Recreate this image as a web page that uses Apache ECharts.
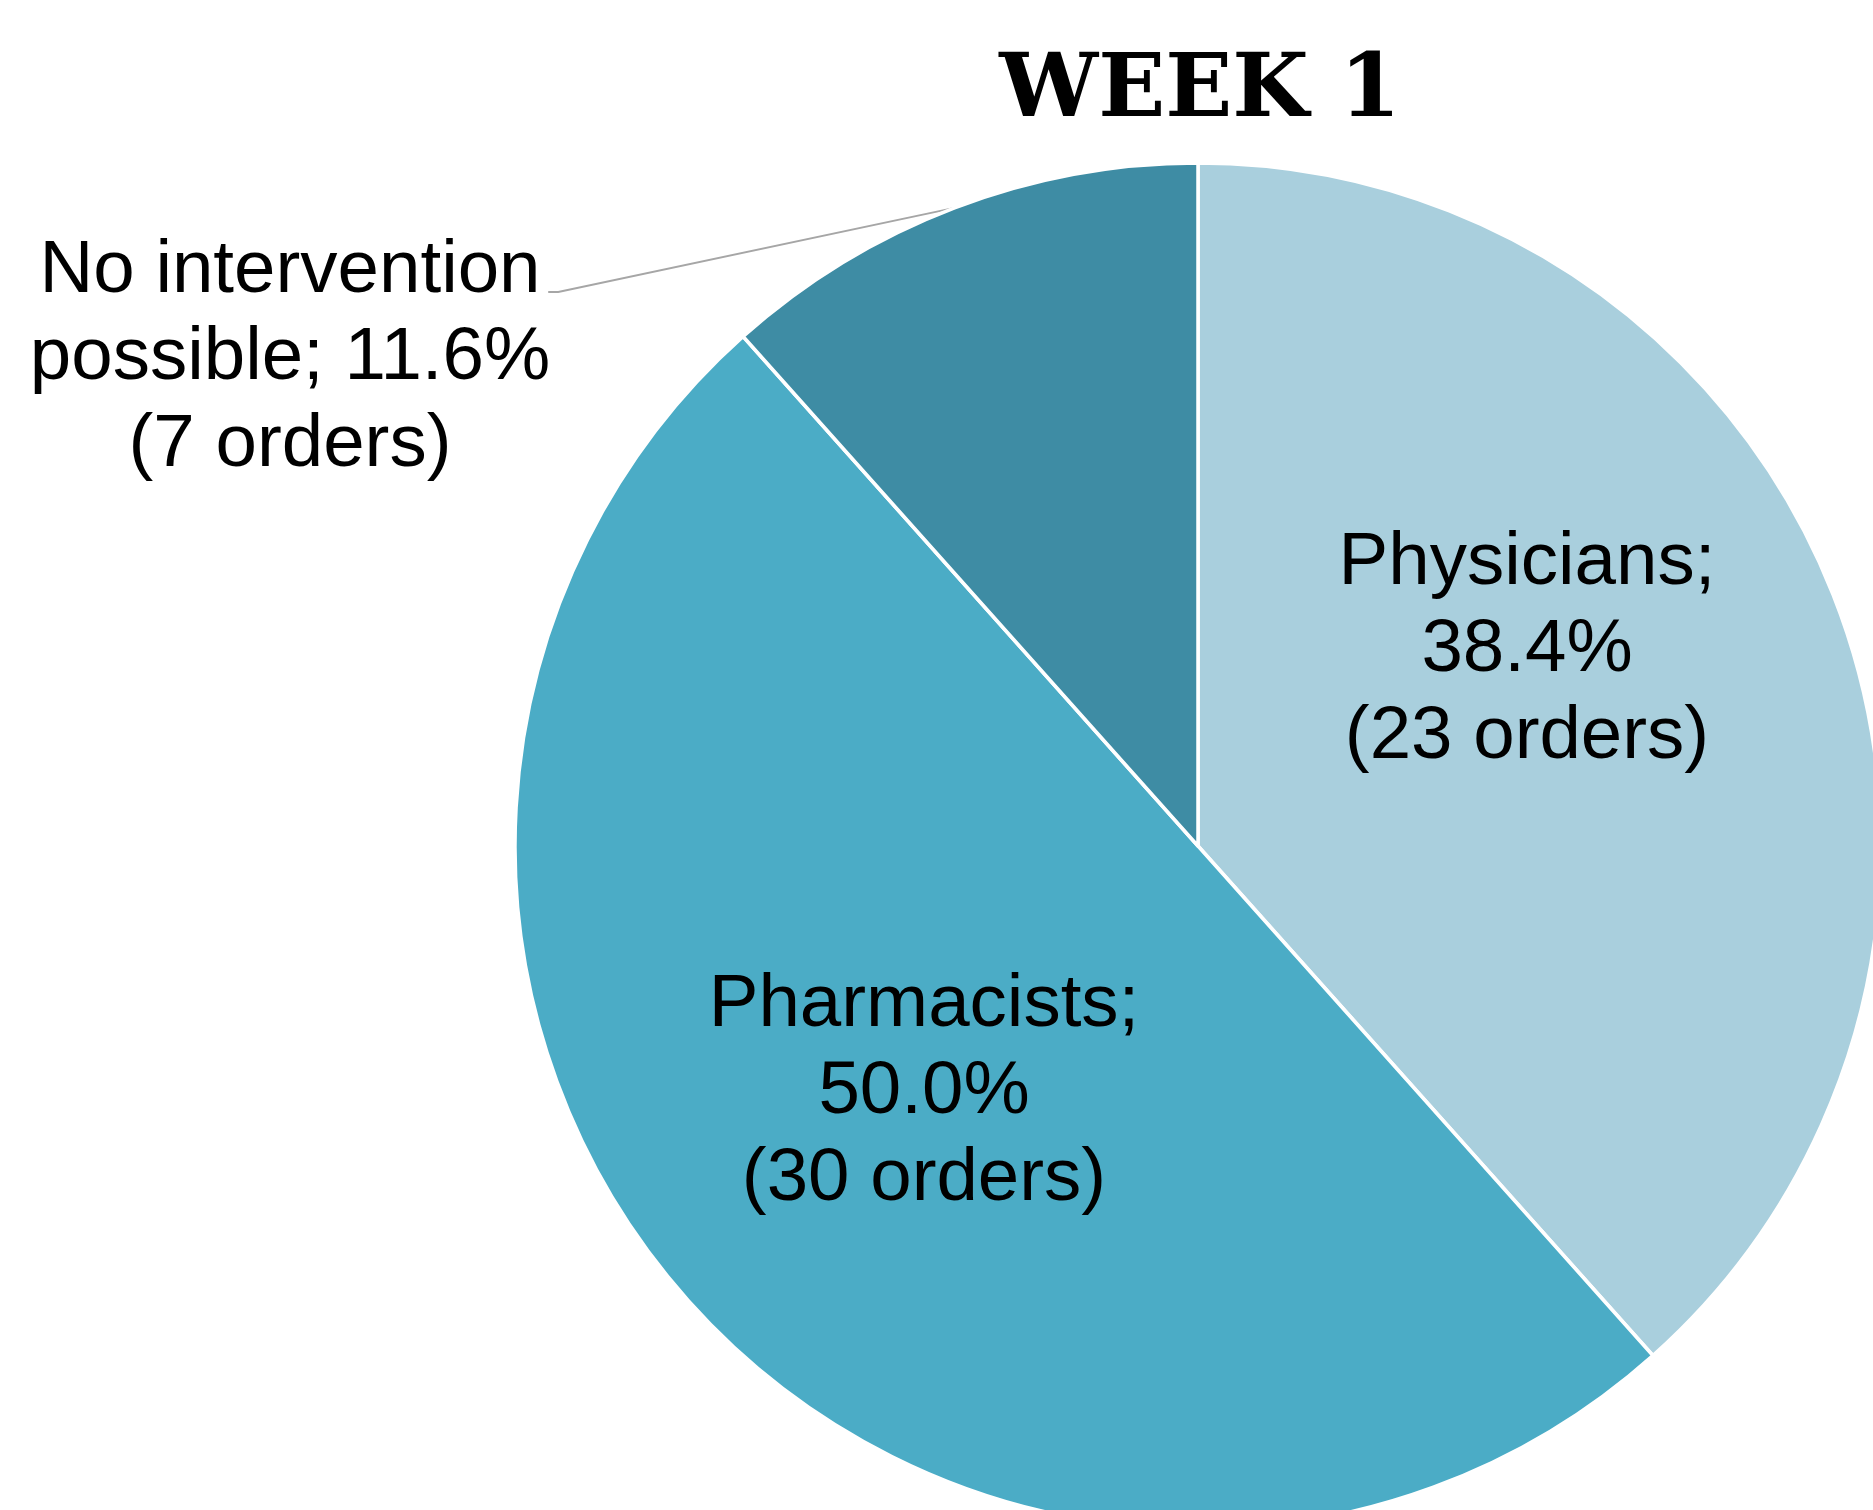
<!DOCTYPE html>
<html>
<head>
<meta charset="utf-8">
<title>Week 1</title>
<script src="https://cdn.jsdelivr.net/npm/echarts@6/dist/echarts.min.js"></script>
<style>
  html, body { margin: 0; padding: 0; background: #fff; }
  #chart { width: 1873px; height: 1510px; }
</style>
</head>
<body>
<div id="chart"></div>
<script>
// data
var categories = ['Physicians', 'Pharmacists', 'No intervention possible'];
var percents = [38.4, 50.0, 11.6];
var orders = [23, 30, 7];
var sliceColors = ['#A9CFDD', '#4BACC6', '#3E8CA4'];

// where the labels sit (text block centre)
var labelSpots = [[1527, 650], [924, 1092], [290, 358]];

var chart = echarts.init(document.getElementById('chart'));

var pieData = categories.map(function (name, i) {
    var item = {
        name: name,
        value: percents[i],
        itemStyle: { color: sliceColors[i] }
    };
    if (i === 2) {
        item.label = { position: 'outside' };
        item.labelLine = { show: true };
    }
    return item;
});

var option = {
    backgroundColor: '#ffffff',
    animation: false,
    title: {
        text: 'WEEK 1',
        left: 1195,
        top: 44,
        textAlign: 'center',
        textStyle: {
            fontFamily: 'DejaVu Serif',
            fontWeight: 'bold',
            fontSize: 88,
            color: '#000'
        }
    },
    series: [{
        type: 'pie',
        center: [1198, 846],
        radius: 683,
        startAngle: 90,
        clockwise: true,
        avoidLabelOverlap: false,
        itemStyle: { borderColor: '#fff', borderWidth: 3.5 },
        label: {
            show: true,
            position: 'inside',
            fontFamily: 'Liberation Sans',
            fontSize: 74.5,
            lineHeight: 87,
            color: '#000',
            align: 'center',
            formatter: function (p) {
                var i = p.dataIndex;
                if (i === 2) {
                    return 'No intervention\npossible; ' + percents[i].toFixed(1) + '%\n(' + orders[i] + ' orders)';
                }
                return categories[i] + ';\n' + percents[i].toFixed(1) + '%\n(' + orders[i] + ' orders)';
            }
        },
        labelLine: {
            show: false,
            lineStyle: { color: '#A6A6A6', width: 2 }
        },
        labelLayout: function (params) {
            var i = params.dataIndex;
            var spot = labelSpots[i];
            var out = { x: spot[0], y: spot[1], align: 'center', verticalAlign: 'middle' };
            if (i === 2 && params.labelLinePoints) {
                var start = params.labelLinePoints[0];
                var halfW = params.labelRect.width / 2;
                var lineY = spot[1] - 66;
                out.labelLinePoints = [
                    [start[0], start[1]],
                    [spot[0] + halfW + 8, lineY],
                    [spot[0] + halfW - 2, lineY]
                ];
            }
            return out;
        },
        data: pieData
    }]
};

chart.setOption(option);
</script>
</body>
</html>
